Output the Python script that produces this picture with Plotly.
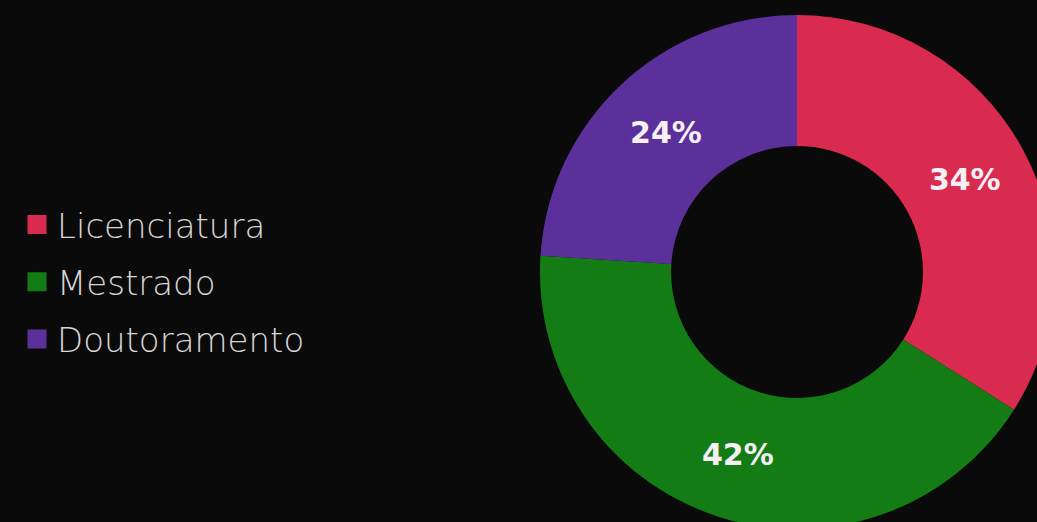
import plotly.graph_objects as go

categories = ["Licenciatura", "Mestrado", "Doutoramento"]
values = [34, 42, 24]
colors = ["#d92a4f", "#147c14", "#5c309b"]

BG = "#0b0a0a"
W, H = 1060, 545

fig = go.Figure()
fig.add_trace(go.Pie(
    labels=categories,
    values=values,
    hole=0.49,
    sort=False,
    direction="clockwise",
    rotation=0,
    marker=dict(colors=colors, line=dict(width=0)),
    textinfo="percent",
    textposition="inside",
    insidetextorientation="horizontal",
    textfont=dict(family="DejaVu Sans", size=30, color="#f4f0f4", weight="bold"),
    showlegend=False,
    hoverinfo="label+percent",
    domain=dict(x=[540 / W, 1054 / W], y=[1 - 529 / H, 1 - 15 / H]),
))

# legend entries (one per category)
for name, c in zip(categories, colors):
    fig.add_trace(go.Scatter(
        x=[None], y=[None], mode="markers", name=name, legendgroup=name,
        marker=dict(symbol="square", size=16, color=c, line=dict(width=3, color=c)),
        showlegend=True, hoverinfo="skip",
    ))

fig.update_layout(
    width=W, height=H,
    margin=dict(l=0, r=0, t=0, b=0),
    paper_bgcolor=BG, plot_bgcolor=BG,
    xaxis=dict(visible=False), yaxis=dict(visible=False),
    legend=dict(
        x=17 / W, xanchor="left", y=1 - 196 / H, yanchor="top",
        font=dict(family="DejaVu Sans", size=34, color="#d8d6d6", weight=300),
        tracegroupgap=10, bgcolor="rgba(0,0,0,0)", itemsizing="trace",
    ),
)

fig.write_html(
    "out.html",
    config={"displayModeBar": False},
    post_script="document.body.style.margin='0';document.body.style.overflow='hidden';document.body.style.background='#0b0a0a';",
)
